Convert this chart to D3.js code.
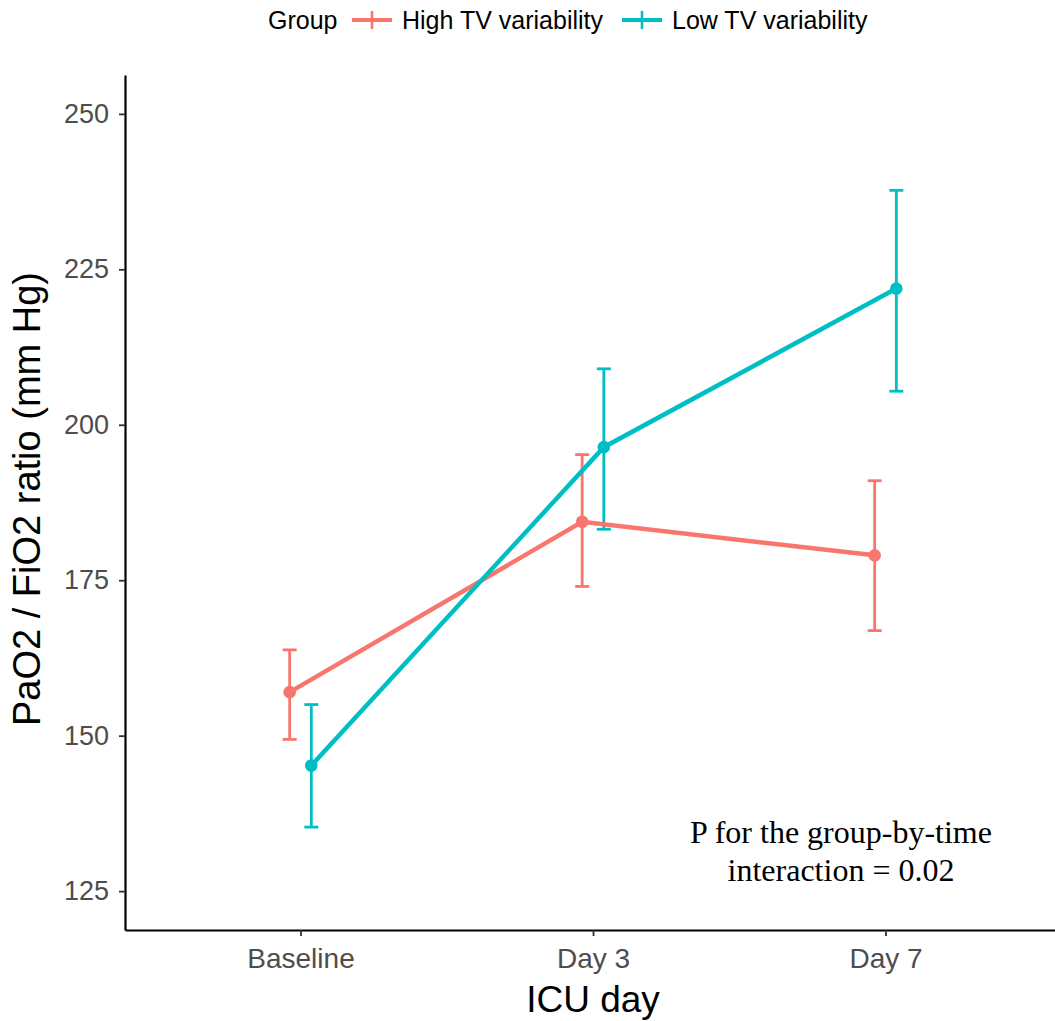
<!DOCTYPE html>
<html>
<head>
<meta charset="utf-8">
<script src="https://cdn.jsdelivr.net/npm/d3@7"></script>
<style>
  body { margin: 0; background: #fff; }
  svg { display: block; }
</style>
</head>
<body>
<div id="chart"></div>
<script>
// chart data
var days = ["Baseline", "Day 3", "Day 7"]
var groups = ["High TV variability", "Low TV variability"]
var groupColors = ["#F8766D", "#00BFC4"]
var highMean = [157.0, 184.4, 179.0]
var highLow = [149.4, 174.0, 166.9]
var highHigh = [163.8, 195.2, 191.0]
var lowMean = [145.2, 196.4, 221.9]
var lowLow = [135.3, 183.2, 205.4]
var lowHigh = [155.0, 209.0, 237.7]
var yTicks = [125, 150, 175, 200, 225, 250]

var width = 1055
var height = 1021

var svg = d3.select("#chart")
    .append("svg")
    .attr("width", width)
    .attr("height", height)

// panel: discrete x at 1..3 with ggplot expansion 0.6, y limits 125-250 with 5% expansion
var x = d3.scaleLinear()
    .domain([0.4, 3.6])
    .range([125, 1061])

var y = d3.scaleLinear()
    .domain([118.75, 256.25])
    .range([930, 75])

var dodge = 0.037

var series = [
    { name: groups[0], color: groupColors[0], off: -dodge, mean: highMean, lo: highLow, hi: highHigh },
    { name: groups[1], color: groupColors[1], off: dodge, mean: lowMean, lo: lowLow, hi: lowHigh }
]

var tickFont = "'Liberation Sans', Arial, sans-serif"

// y axis
var yAxis = svg.append("g")
    .attr("transform", "translate(125,0)")
    .call(d3.axisLeft(y).tickValues(yTicks).tickSizeInner(6).tickSizeOuter(0).tickPadding(10))
yAxis.select(".domain").attr("stroke", "#000").attr("stroke-width", 2.2)
yAxis.selectAll(".tick line").attr("stroke", "#333").attr("stroke-width", 1.8)
yAxis.selectAll(".tick text")
    .attr("fill", "#4D4D4D")
    .style("font-family", tickFont)
    .style("font-size", "27px")

// x axis
var xAxis = svg.append("g")
    .attr("transform", "translate(0,930)")
    .call(d3.axisBottom(x).tickValues([1, 2, 3]).tickFormat(function(d) { return days[d - 1] }).tickSizeInner(6).tickSizeOuter(0).tickPadding(12))
xAxis.select(".domain").attr("stroke", "#000").attr("stroke-width", 2.2)
xAxis.selectAll(".tick line").attr("stroke", "#333").attr("stroke-width", 1.8)
xAxis.selectAll(".tick text")
    .attr("fill", "#4D4D4D")
    .style("font-family", tickFont)
    .style("font-size", "28px")

// error bars
var capHalf = 7
series.forEach(function(s) {
    var g = svg.append("g").attr("class", "series")
    var idx = d3.range(days.length)

    g.selectAll("line.bar")
        .data(idx)
        .enter()
        .append("line")
        .attr("x1", function(i) { return x(i + 1 + s.off) })
        .attr("x2", function(i) { return x(i + 1 + s.off) })
        .attr("y1", function(i) { return y(s.lo[i]) })
        .attr("y2", function(i) { return y(s.hi[i]) })
        .attr("stroke", s.color)
        .attr("stroke-width", 2.8)

    g.selectAll("line.capTop")
        .data(idx)
        .enter()
        .append("line")
        .attr("x1", function(i) { return x(i + 1 + s.off) - capHalf })
        .attr("x2", function(i) { return x(i + 1 + s.off) + capHalf })
        .attr("y1", function(i) { return y(s.hi[i]) })
        .attr("y2", function(i) { return y(s.hi[i]) })
        .attr("stroke", s.color)
        .attr("stroke-width", 2.8)

    g.selectAll("line.capBot")
        .data(idx)
        .enter()
        .append("line")
        .attr("x1", function(i) { return x(i + 1 + s.off) - capHalf })
        .attr("x2", function(i) { return x(i + 1 + s.off) + capHalf })
        .attr("y1", function(i) { return y(s.lo[i]) })
        .attr("y2", function(i) { return y(s.lo[i]) })
        .attr("stroke", s.color)
        .attr("stroke-width", 2.8)
})

// lines and points
series.forEach(function(s) {
    var line = d3.line()
        .x(function(d, i) { return x(i + 1 + s.off) })
        .y(function(d) { return y(d) })

    svg.append("path")
        .datum(s.mean)
        .attr("d", line)
        .attr("fill", "none")
        .attr("stroke", s.color)
        .attr("stroke-width", 4.5)

    svg.append("g")
        .selectAll("circle")
        .data(s.mean)
        .enter()
        .append("circle")
        .attr("cx", function(d, i) { return x(i + 1 + s.off) })
        .attr("cy", function(d) { return y(d) })
        .attr("r", 6.3)
        .attr("fill", s.color)
})

// axis titles
svg.append("text")
    .attr("x", 593)
    .attr("y", 1012)
    .attr("text-anchor", "middle")
    .style("font-family", tickFont)
    .style("font-size", "37px")
    .attr("fill", "#000")
    .text("ICU day")

svg.append("text")
    .attr("transform", "translate(40,499) rotate(-90)")
    .attr("text-anchor", "middle")
    .style("font-family", tickFont)
    .style("font-size", "38px")
    .attr("fill", "#000")
    .text("PaO2 / FiO2 ratio (mm Hg)")

// annotation
var note = svg.append("text")
    .attr("text-anchor", "middle")
    .style("font-family", "'Liberation Serif', 'Times New Roman', serif")
    .style("font-size", "32px")
    .attr("fill", "#000")
note.append("tspan").attr("x", 841).attr("y", 843).text("P for the group-by-time")
note.append("tspan").attr("x", 841).attr("y", 881).text("interaction = 0.02")

// legend
var legend = svg.append("g").style("font-family", tickFont).style("font-size", "25px")
legend.append("text").attr("x", 268).attr("y", 29).text("Group")

var legendX = [352, 622]
series.forEach(function(s, i) {
    var lx = legendX[i]
    legend.append("line")
        .attr("x1", lx).attr("x2", lx + 40)
        .attr("y1", 20).attr("y2", 20)
        .attr("stroke", s.color).attr("stroke-width", 4)
    legend.append("line")
        .attr("x1", lx + 20).attr("x2", lx + 20)
        .attr("y1", 11).attr("y2", 29)
        .attr("stroke", s.color).attr("stroke-width", 2.6)
    legend.append("text").attr("x", lx + 50).attr("y", 29).text(s.name)
})
</script>
</body>
</html>
